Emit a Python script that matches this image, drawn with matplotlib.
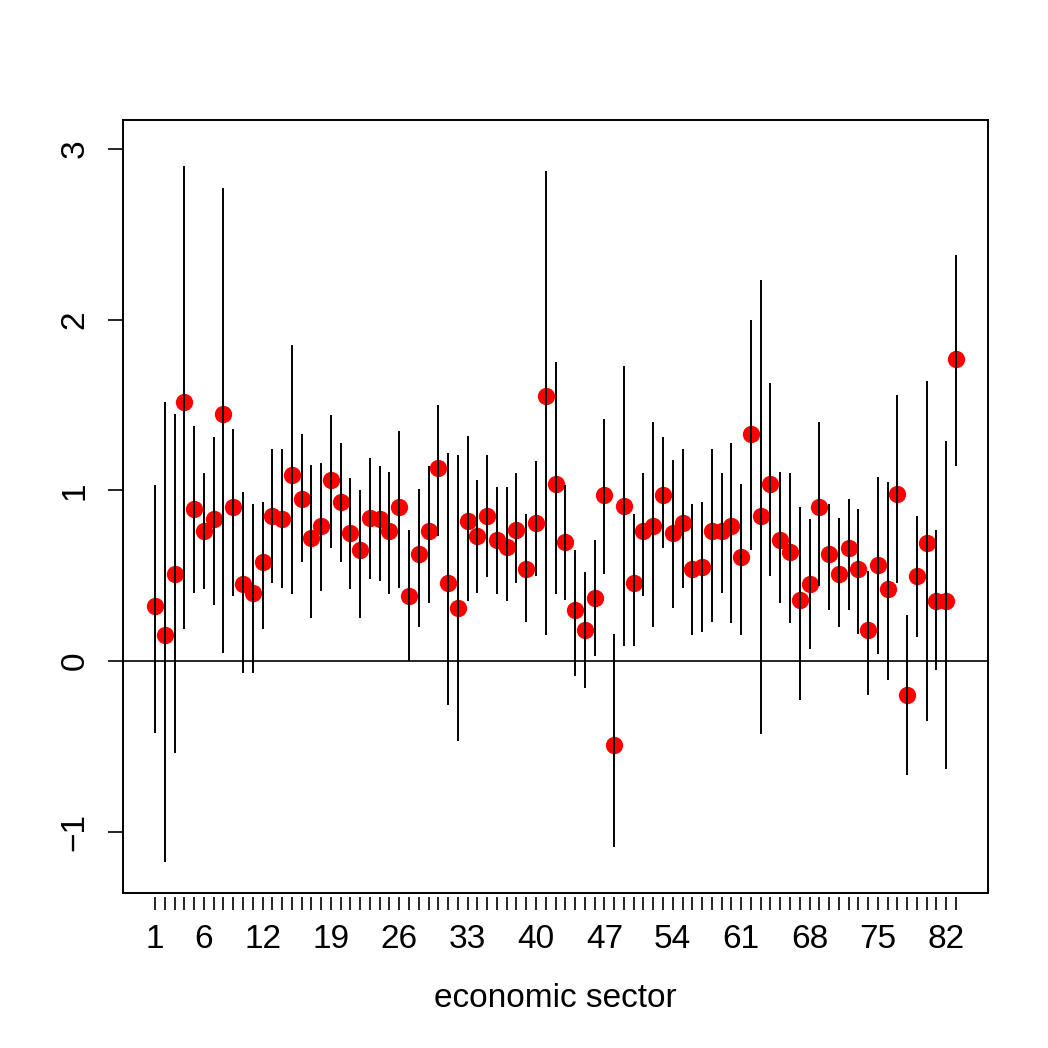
import numpy as np
import matplotlib
matplotlib.use("Agg")
import matplotlib.pyplot as plt

plt.rcParams['font.family'] = ['Liberation Sans', 'DejaVu Sans']

# point estimates and interval ends per economic sector (1..83)
estimate = [0.32, 0.15, 0.51, 1.52, 0.89, 0.76, 0.83, 1.45, 0.90, 0.45,
            0.40, 0.58, 0.85, 0.83, 1.09, 0.95, 0.72, 0.79, 1.06, 0.93,
            0.75, 0.65, 0.84, 0.83, 0.76, 0.90, 0.38, 0.63, 0.76, 1.13,
            0.46, 0.31, 0.82, 0.73, 0.85, 0.71, 0.67, 0.77, 0.54, 0.81,
            1.55, 1.04, 0.70, 0.30, 0.18, 0.37, 0.97, -0.49, 0.91, 0.46,
            0.76, 0.79, 0.97, 0.75, 0.81, 0.54, 0.55, 0.76, 0.76, 0.79,
            0.61, 1.33, 0.85, 1.04, 0.71, 0.64, 0.36, 0.45, 0.90, 0.63,
            0.51, 0.66, 0.54, 0.18, 0.56, 0.42, 0.98, -0.20, 0.50, 0.69,
            0.35, 0.35, 1.77]
upper = [1.03, 1.52, 1.45, 2.90, 1.38, 1.10, 1.31, 2.77, 1.36, 0.99,
         0.92, 0.93, 1.24, 1.24, 1.85, 1.33, 1.15, 1.16, 1.44, 1.28,
         1.07, 1.00, 1.19, 1.14, 1.11, 1.35, 0.77, 1.01, 1.14, 1.50,
         1.22, 1.21, 1.32, 1.06, 1.21, 1.02, 1.02, 1.10, 0.86, 1.17,
         2.87, 1.75, 1.03, 0.65, 0.52, 0.71, 1.42, 0.16, 1.73, 0.86,
         1.10, 1.40, 1.31, 1.18, 1.24, 0.92, 0.93, 1.24, 1.10, 1.28,
         1.04, 2.00, 2.23, 1.63, 1.11, 1.10, 0.90, 0.83, 1.40, 0.92,
         0.84, 0.95, 0.89, 0.53, 1.08, 1.05, 1.56, 0.27, 0.85, 1.64,
         0.77, 1.29, 2.38]
lower = [-0.42, -1.18, -0.54, 0.19, 0.40, 0.42, 0.33, 0.05, 0.38, -0.07,
         -0.07, 0.19, 0.46, 0.43, 0.39, 0.58, 0.25, 0.41, 0.66, 0.58,
         0.42, 0.25, 0.48, 0.47, 0.39, 0.43, 0.00, 0.20, 0.34, 0.73,
         -0.26, -0.47, 0.35, 0.40, 0.49, 0.39, 0.35, 0.46, 0.23, 0.50,
         0.15, 0.39, 0.36, -0.09, -0.16, 0.03, 0.51, -1.09, 0.09, 0.09,
         0.38, 0.20, 0.66, 0.31, 0.43, 0.15, 0.17, 0.23, 0.40, 0.22,
         0.15, 0.65, -0.43, 0.50, 0.34, 0.22, -0.23, 0.07, 0.44, 0.30,
         0.20, 0.30, 0.16, -0.20, 0.04, -0.11, 0.46, -0.67, 0.14, -0.35,
         -0.05, -0.63, 1.14]
sector = np.arange(1, len(estimate) + 1)
shown_labels = [1, 6, 12, 19, 26, 33, 40, 47, 54, 61, 68, 75, 82]

fig = plt.figure(figsize=(10.48, 10.48), dpi=100)
ax = fig.add_axes([0.1174, 0.1479, 0.8254, 0.7376])

ax.plot(sector, estimate, 'o', color='red', markersize=12.5, markeredgewidth=0, zorder=2)
ax.vlines(sector, lower, upper, color='black', linewidth=1.4, zorder=3)
ax.axhline(0, color='black', linewidth=1.2, zorder=1)

ax.set_xlim(-2.28, 86.28)
ax.set_ylim(-1.359, 3.170)

ax.set_xticks(sector)
ax.set_xticklabels([str(s) if s in shown_labels else '' for s in sector])
ax.set_yticks([-1, 0, 1, 2, 3])
ax.set_yticklabels(['\u22121', '0', '1', '2', '3'], rotation=90, va='center')

for s in ax.spines.values():
    s.set_linewidth(1.4)
ax.spines['bottom'].set_position(('outward', 3))
ax.spines['bottom'].set_visible(False)
ax.plot([0, 1], [0, 0], transform=ax.transAxes, color='black', linewidth=1.4, clip_on=False)

ax.tick_params(axis='x', length=9.5, width=1.2, pad=9.5, labelsize=24)
ax.tick_params(axis='y', length=11, width=1.2, pad=12.5, labelsize=24)

ax.text(0.5, -0.1475, 'economic sector', transform=ax.transAxes,
        ha='center', va='baseline', fontsize=24)

fig.savefig('out.png', dpi=100)
